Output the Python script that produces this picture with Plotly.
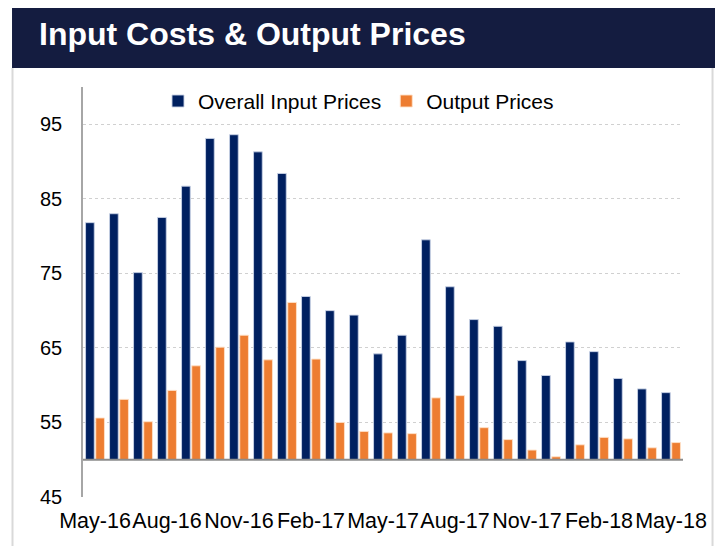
import plotly.graph_objects as go

months = ["May-16", "Jun-16", "Jul-16", "Aug-16", "Sep-16", "Oct-16", "Nov-16", "Dec-16",
          "Jan-17", "Feb-17", "Mar-17", "Apr-17", "May-17", "Jun-17", "Jul-17", "Aug-17",
          "Sep-17", "Oct-17", "Nov-17", "Dec-17", "Jan-18", "Feb-18", "Mar-18", "Apr-18", "May-18"]
input_prices = [81.8, 83.0, 75.1, 82.5, 86.7, 93.1, 93.6, 91.3, 88.4, 71.9, 70.0, 69.4, 64.2,
                66.7, 79.5, 73.2, 68.8, 67.9, 63.3, 61.3, 65.8, 64.5, 60.9, 59.5, 59.0]
output_prices = [55.6, 58.1, 55.1, 59.3, 62.6, 65.1, 66.7, 63.4, 71.1, 63.5, 55.0, 53.8, 53.6,
                 53.5, 58.3, 58.6, 54.3, 52.7, 51.3, 50.4, 52.0, 53.0, 52.8, 51.6, 52.3]
tick_labels = months[::3]
base_value = 50

BLUE = "#002060"
ORANGE = "#ED7D31"
FONT = "Arial, Liberation Sans, sans-serif"

fig = go.Figure()
fig.add_trace(go.Bar(
    x=months, y=[v - base_value for v in input_prices], base=base_value,
    name="Overall Input Prices", marker=dict(color=BLUE, line=dict(color="rgba(200,210,230,0.9)", width=1)),
    customdata=input_prices, hovertemplate="%{x}: %{customdata}<extra></extra>",
))
fig.add_trace(go.Bar(
    x=months, y=[v - base_value for v in output_prices], base=base_value,
    name="Output Prices", marker=dict(color=ORANGE, line=dict(color="rgba(255,225,200,0.9)", width=1)),
    customdata=output_prices, hovertemplate="%{x}: %{customdata}<extra></extra>",
))

# title bar
fig.add_shape(type="rect", xref="paper", yref="paper", x0=-0.1183, x1=1.0545, y0=1.0463, y1=1.2024,
              fillcolor="#141c40", line_width=0, layer="below")
# frame lines
fig.add_shape(type="line", xref="paper", yref="paper", x0=-0.1175, x1=-0.1175, y0=1.0463, y1=-0.14,
              line=dict(color="#d9d9d9", width=2))
fig.add_shape(type="line", xref="paper", yref="paper", x0=1.0492, x1=1.0492, y0=1.0463, y1=-0.14,
              line=dict(color="#d9d9d9", width=2))
# category axis line at base value
fig.add_shape(type="line", xref="paper", yref="y", x0=0, x1=1, y0=base_value, y1=base_value,
              line=dict(color="#8c8c8c", width=2))

fig.add_annotation(text="<b>Input Costs & Output Prices</b>", xref="paper", yref="paper",
                   x=-0.077, y=1.13, xanchor="left", yanchor="middle", showarrow=False,
                   font=dict(family=FONT, size=32, color="white"))

fig.update_layout(
    width=723, height=546,
    margin=dict(l=75, r=48, t=79, b=57, autoexpand=False),
    paper_bgcolor="white", plot_bgcolor="white",
    barmode="group", bargap=0.15, bargroupgap=0.147,
    font=dict(family=FONT, size=20, color="black"),
    showlegend=True,
    legend=dict(orientation="h", x=0.125, y=1.015, xanchor="left", yanchor="top",
                font=dict(size=21), bgcolor="rgba(0,0,0,0)", itemwidth=30,
                tracegroupgap=0),
)
fig.update_xaxes(
    tickmode="array", tickvals=tick_labels, ticktext=tick_labels,
    showgrid=False, showline=False, ticks="", tickfont=dict(size=21.5), tickangle=0,
    ticklabelstandoff=8,
)
fig.update_yaxes(
    range=[45, 100], tick0=45, dtick=10, showgrid=True, gridcolor="#d0d0d0", griddash="dot",
    gridwidth=1, showline=True, linecolor="#a6a6a6", linewidth=1.5, zeroline=False,
    ticks="", ticklabelstandoff=15, tickfont=dict(size=20),
)

fig.write_html("out.html")
